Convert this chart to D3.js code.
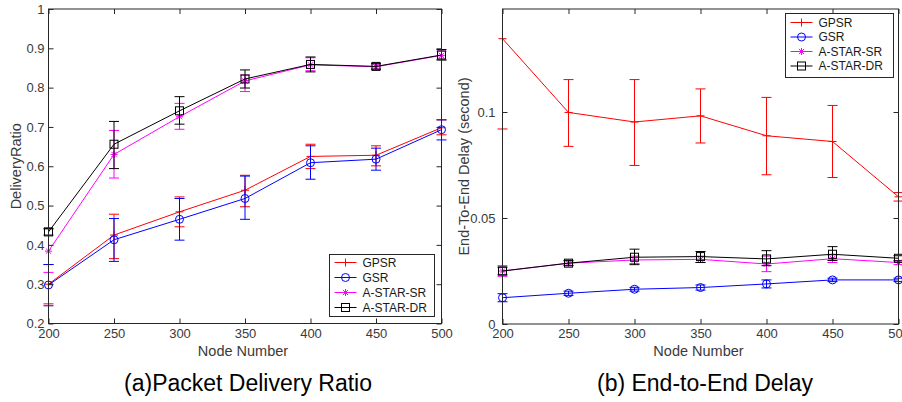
<!DOCTYPE html>
<html>
<head>
<meta charset="utf-8">
<script src="https://cdn.jsdelivr.net/npm/d3@7"></script>
<style>
  html, body { margin: 0; padding: 0; background: #fff; }
  svg { display: block; }
  text { font-family: "Liberation Sans", Arial, Helvetica, sans-serif; }
</style>
</head>
<body>
<svg id="chart" width="902" height="402"></svg>
<script>
// ---------- data ----------
const nodes = [200, 250, 300, 350, 400, 450, 500];
const seriesNames = ["GPSR", "GSR", "A-STAR-SR", "A-STAR-DR"];

// (a) Packet Delivery Ratio
const pdrGPSR   = [0.300, 0.425, 0.484, 0.539, 0.625, 0.628, 0.698];
const pdrGPSRLo = [0.250, 0.365, 0.446, 0.497, 0.594, 0.601, 0.680];
const pdrGPSRHi = [0.350, 0.478, 0.522, 0.577, 0.656, 0.652, 0.718];
const pdrGSR    = [0.298, 0.413, 0.465, 0.518, 0.609, 0.618, 0.693];
const pdrGSRLo  = [0.245, 0.358, 0.412, 0.465, 0.567, 0.590, 0.667];
const pdrGSRHi  = [0.350, 0.467, 0.518, 0.575, 0.652, 0.646, 0.718];
const pdrSR     = [0.384, 0.630, 0.726, 0.817, 0.858, 0.853, 0.882];
const pdrSRLo   = [0.330, 0.570, 0.694, 0.790, 0.843, 0.847, 0.872];
const pdrSRHi   = [0.440, 0.691, 0.760, 0.832, 0.876, 0.860, 0.893];
const pdrDR     = [0.433, 0.656, 0.741, 0.822, 0.859, 0.854, 0.883];
const pdrDRLo   = [0.425, 0.594, 0.707, 0.799, 0.840, 0.847, 0.870];
const pdrDRHi   = [0.442, 0.714, 0.777, 0.845, 0.878, 0.861, 0.897];
const pdrTicks  = [0.2, 0.3, 0.4, 0.5, 0.6, 0.7, 0.8, 0.9, 1];

// (b) End-to-End Delay (second)
const delGPSR   = [0.1346, 0.0998, 0.0953, 0.0982, 0.0888, 0.0861, 0.0600];
const delGPSRLo = [0.0920, 0.0838, 0.0748, 0.0854, 0.0704, 0.0691, 0.0580];
const delGPSRHi = [0.1770, 0.1153, 0.1153, 0.1109, 0.1069, 0.1031, 0.0620];
const delGSR    = [0.0124, 0.0145, 0.0164, 0.0172, 0.0189, 0.0208, 0.0208];
const delGSRLo  = [0.0105, 0.0135, 0.0155, 0.0160, 0.0170, 0.0200, 0.0200];
const delGSRHi  = [0.0143, 0.0155, 0.0173, 0.0184, 0.0208, 0.0216, 0.0216];
const delSR     = [0.0250, 0.0287, 0.0302, 0.0305, 0.0283, 0.0308, 0.0290];
const delSRLo   = [0.0225, 0.0277, 0.0285, 0.0290, 0.0247, 0.0290, 0.0280];
const delSRHi   = [0.0275, 0.0297, 0.0320, 0.0320, 0.0320, 0.0326, 0.0300];
const delDR     = [0.0250, 0.0287, 0.0315, 0.0318, 0.0307, 0.0329, 0.0310];
const delDRLo   = [0.0232, 0.0275, 0.0280, 0.0290, 0.0275, 0.0300, 0.0298];
const delDRHi   = [0.0268, 0.0300, 0.0353, 0.0342, 0.0346, 0.0365, 0.0322];
const delTicks  = [0, 0.05, 0.1];

const xTicks = [200, 250, 300, 350, 400, 450, 500];

// ---------- styles ----------
const colors  = ["#ff0000", "#0000ff", "#ff00ff", "#000000"];
const markers = ["plus", "circle", "star", "square"];

const svg = d3.select("#chart");

function drawMarker(g, type, x, y, color) {
  if (type === "plus") {
    g.append("path").attr("d", `M${x-4},${y}H${x+4}M${x},${y-4}V${y+4}`)
      .attr("stroke", color).attr("fill", "none").attr("stroke-width", 1);
  } else if (type === "circle") {
    g.append("circle").attr("cx", x).attr("cy", y).attr("r", 4)
      .attr("stroke", color).attr("fill", "none").attr("stroke-width", 1);
  } else if (type === "star") {
    g.append("path").attr("d",
      `M${x-3.5},${y}H${x+3.5}M${x},${y-3.5}V${y+3.5}M${x-2.6},${y-2.6}L${x+2.6},${y+2.6}M${x-2.6},${y+2.6}L${x+2.6},${y-2.6}`)
      .attr("stroke", color).attr("fill", "none").attr("stroke-width", 1);
  } else if (type === "square") {
    g.append("rect").attr("x", x-4).attr("y", y-4).attr("width", 8).attr("height", 8)
      .attr("stroke", color).attr("fill", "none").attr("stroke-width", 1);
  }
}

function drawPanel(cfg) {
  const x = d3.scaleLinear().domain([200, 500]).range([cfg.x0, cfg.x1]);
  const y = d3.scaleLinear().domain(cfg.yDomain).range([cfg.y1, cfg.y0]);
  const g = svg.append("g");
  const clipId = "clip" + cfg.id;
  svg.append("defs").append("clipPath").attr("id", clipId)
    .append("rect").attr("x", cfg.x0 - 12).attr("y", cfg.y0)
    .attr("width", cfg.x1 - cfg.x0 + 24).attr("height", cfg.y1 - cfg.y0);

  const tickLen = 5;
  const frameColor = "#262626";
  const labelColor = "#3a3a3a";

  // series
  const plotG = g.append("g").attr("clip-path", `url(#${clipId})`);
  cfg.series.forEach((s, i) => {
    const col = colors[i];
    const line = d3.line().x((d, k) => x(nodes[k])).y(d => y(d));
    plotG.append("path").datum(s.v).attr("d", line)
      .attr("fill", "none").attr("stroke", col).attr("stroke-width", 1);
    nodes.forEach((n, k) => {
      const cx = x(n), yl = y(s.lo[k]), yh = y(s.hi[k]);
      plotG.append("path")
        .attr("d", `M${cx},${yl}V${yh}M${cx-5},${yl}H${cx+5}M${cx-5},${yh}H${cx+5}`)
        .attr("stroke", col).attr("fill", "none").attr("stroke-width", 1);
    });
    nodes.forEach((n, k) => drawMarker(plotG, markers[i], x(n), y(s.v[k]), col));
  });

  // frame
  g.append("rect").attr("x", cfg.x0).attr("y", cfg.y0)
    .attr("width", cfg.x1 - cfg.x0).attr("height", cfg.y1 - cfg.y0)
    .attr("fill", "none").attr("stroke", frameColor).attr("stroke-width", 1);

  // axes (ticks inward, on all sides)
  const axB = d3.axisBottom(x).tickValues(xTicks).tickSizeInner(-tickLen).tickSizeOuter(0).tickPadding(5);
  const axT = d3.axisTop(x).tickValues(xTicks).tickSizeInner(-tickLen).tickSizeOuter(0).tickFormat("");
  const axL = d3.axisLeft(y).tickValues(cfg.yTicks).tickSizeInner(-tickLen).tickSizeOuter(0).tickPadding(cfg.yPad)
    .tickFormat(d3.format("~g"));
  const axR = d3.axisRight(y).tickValues(cfg.yTicks).tickSizeInner(-tickLen).tickSizeOuter(0).tickFormat("");
  [[axB, `translate(0,${cfg.y1})`], [axT, `translate(0,${cfg.y0})`],
   [axL, `translate(${cfg.x0},0)`], [axR, `translate(${cfg.x1},0)`]].forEach(([ax, tr]) => {
    const a = g.append("g").attr("transform", tr).call(ax);
    a.select(".domain").remove();
    a.selectAll("line").attr("stroke", frameColor);
    a.selectAll("text").attr("fill", labelColor).style("font-size", "13px")
      .style("font-family", '"Liberation Sans", Arial, sans-serif');
  });

  // axis labels
  g.append("text").attr("x", (cfg.x0 + cfg.x1) / 2 + cfg.xLabelDx).attr("y", 356)
    .attr("text-anchor", "middle").attr("fill", labelColor).style("font-size", "14.5px").text("Node Number");
  g.append("text").attr("transform", `translate(${cfg.yLabelX},${(cfg.y0 + cfg.y1) / 2}) rotate(-90)`)
    .attr("text-anchor", "middle").attr("dy", "0.35em").attr("fill", labelColor)
    .style("font-size", "14.5px").text(cfg.yLabel);

  // caption
  g.append("text").attr("x", cfg.titleX).attr("y", 391).attr("text-anchor", "middle")
    .attr("fill", "#000").style("font-size", "23px").text(cfg.title);

  // legend
  const L = cfg.legend;
  const lg = g.append("g");
  lg.append("rect").attr("x", L.x).attr("y", L.y).attr("width", L.w).attr("height", L.h)
    .attr("fill", "#fff").attr("stroke", frameColor).attr("stroke-width", 1);
  seriesNames.forEach((name, i) => {
    const ry = L.y + L.first + i * L.step;
    lg.append("line").attr("x1", L.x + 5).attr("x2", L.x + 27).attr("y1", ry).attr("y2", ry)
      .attr("stroke", colors[i]).attr("stroke-width", 1);
    drawMarker(lg, markers[i], L.x + 16, ry, colors[i]);
    lg.append("text").attr("x", L.x + 33).attr("y", ry).attr("dy", "0.36em")
      .attr("fill", "#1a1a1a").style("font-size", "12px").text(name);
  });
}

drawPanel({
  id: "a", x0: 48.5, x1: 441.5, y0: 9, y1: 323.5, yDomain: [0.2, 1], yTicks: pdrTicks, yPad: 4,
  series: [
    { v: pdrGPSR, lo: pdrGPSRLo, hi: pdrGPSRHi },
    { v: pdrGSR,  lo: pdrGSRLo,  hi: pdrGSRHi },
    { v: pdrSR,   lo: pdrSRLo,   hi: pdrSRHi },
    { v: pdrDR,   lo: pdrDRLo,   hi: pdrDRHi }
  ],
  yLabel: "DeliveryRatio", yLabelX: 16, xLabelDx: -2,
  title: "(a)Packet Delivery Ratio", titleX: 248,
  legend: { x: 329.5, y: 254.5, w: 105, h: 62, first: 8, step: 15 }
});

drawPanel({
  id: "b", x0: 502.5, x1: 898.5, y0: 9, y1: 324, yDomain: [0, 0.1486], yTicks: delTicks, yPad: 7,
  series: [
    { v: delGPSR, lo: delGPSRLo, hi: delGPSRHi },
    { v: delGSR,  lo: delGSRLo,  hi: delGSRHi },
    { v: delSR,   lo: delSRLo,   hi: delSRHi },
    { v: delDR,   lo: delDRLo,   hi: delDRHi }
  ],
  yLabel: "End-To-End Delay (second)", yLabelX: 464, xLabelDx: -2,
  title: "(b) End-to-End Delay", titleX: 705,
  legend: { x: 785.5, y: 13.5, w: 108, h: 64, first: 9, step: 14.5 }
});
</script>
</body>
</html>
